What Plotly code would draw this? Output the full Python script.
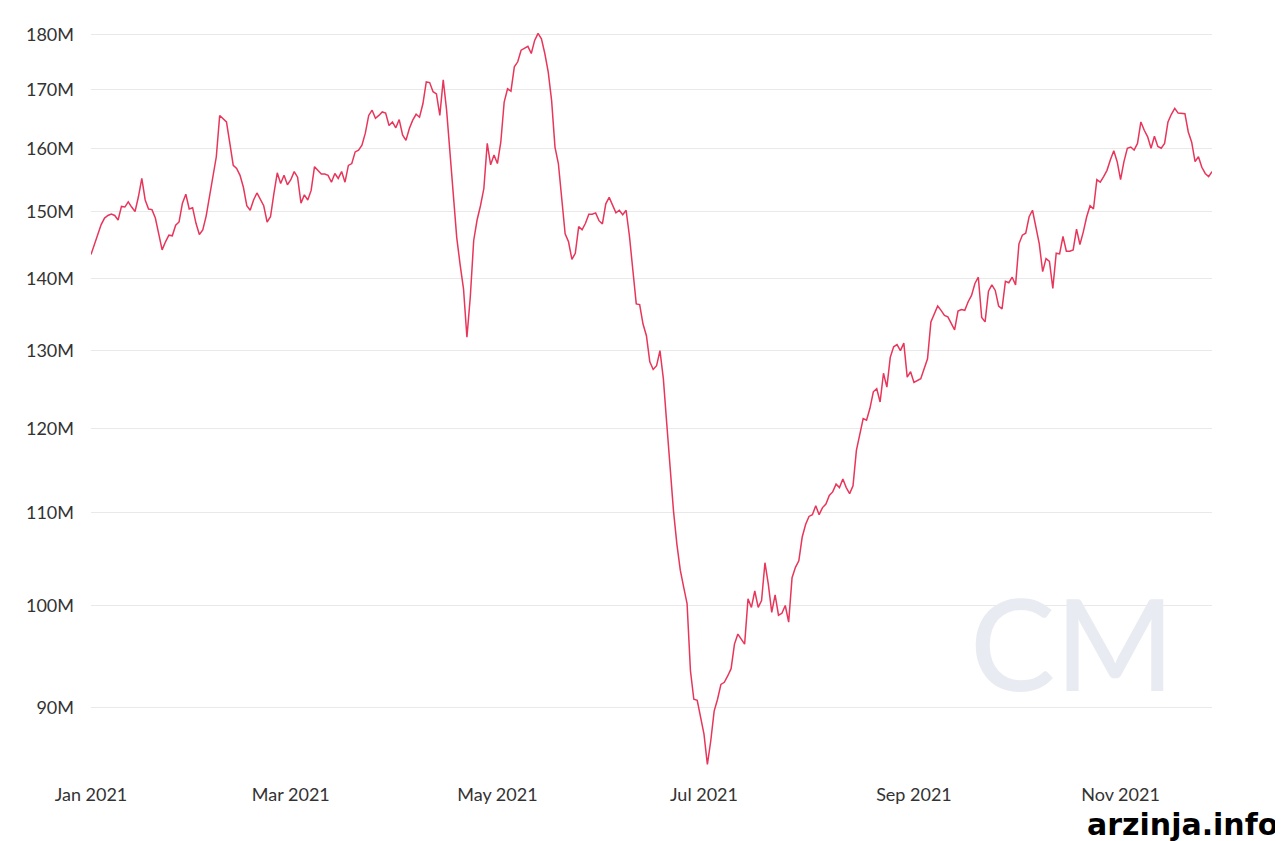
import pandas as pd
import plotly.graph_objects as go

# daily values in millions, one list per month
jan = [143.5, 145.0, 146.5, 148.0, 149.0, 149.4, 149.6, 149.4, 148.7, 150.8,
       150.7, 151.5, 150.7, 150.0, 152.3, 155.2, 151.8, 150.4, 150.3, 149.0,
       146.6, 144.2, 145.4, 146.4, 146.3, 147.9, 148.4, 151.3, 152.7, 150.4,
       150.6]
feb = [148.2, 146.5, 147.2, 149.3, 152.3, 156.0, 158.7, 165.6, 165.1, 164.5,
       160.9, 157.3, 156.8, 155.7, 153.8, 150.9, 150.2, 151.8, 152.9, 152.0,
       150.9, 148.4, 149.2, 152.8, 156.1, 154.4, 155.7, 154.2]
mar = [155.0, 156.3, 155.4, 151.3, 152.6, 151.8, 153.3, 157.1, 156.5, 155.9,
       155.9, 155.7, 154.6, 156.0, 155.2, 156.3, 154.6, 157.3, 157.6, 159.5,
       159.8, 160.6, 162.6, 165.6, 166.5, 165.1, 165.6, 166.2, 166.0, 163.9,
       164.5]
apr = [163.5, 164.9, 162.3, 161.4, 163.4, 164.8, 165.8, 165.3, 167.6, 171.4,
       171.3, 169.7, 169.3, 165.6, 171.8, 166.5, 159.3, 152.3, 146.0, 142.0,
       138.5, 131.8, 137.4, 145.6, 148.7, 150.9, 153.6, 160.9, 157.4, 159.0]
may = [157.6, 161.1, 167.9, 170.2, 169.8, 174.1, 175.0, 177.1, 177.5, 177.8,
       176.5, 178.9, 180.2, 179.2, 176.5, 173.2, 168.2, 160.3, 157.6, 152.3,
       146.6, 145.4, 142.8, 143.7, 147.7, 147.2, 148.2, 149.6, 149.6, 149.8,
       148.6]
jun = [148.1, 151.2, 152.2, 150.9, 149.8, 150.2, 149.5, 150.2, 146.2, 141.2,
       136.4, 136.3, 133.6, 132.0, 128.5, 127.5, 128.0, 130.0, 126.3, 120.6,
       115.3, 110.2, 106.5, 103.7, 101.9, 100.2, 93.5, 90.8, 90.7, 89.1]
jul = [87.6, 84.9, 87.0, 89.7, 90.8, 92.2, 92.4, 93.0, 93.7, 96.1,
       97.1, 96.6, 96.1, 100.7, 99.8, 101.5, 99.8, 100.5, 104.5, 102.2,
       99.3, 101.1, 99.0, 99.2, 100.0, 98.3, 102.9, 104.0, 104.7, 107.3,
       108.7]
aug = [109.6, 109.8, 110.8, 109.8, 110.6, 111.0, 112.0, 112.4, 113.3, 112.9,
       113.9, 112.9, 112.2, 113.1, 117.3, 119.4, 121.2, 121.0, 122.5, 124.6,
       125.0, 123.3, 127.0, 125.2, 129.1, 130.5, 130.8, 130.0, 131.0, 126.5,
       127.2]
sep = [125.8, 126.0, 126.3, 127.6, 128.9, 133.9, 135.0, 136.1, 135.5, 134.8,
       134.6, 133.7, 132.8, 135.4, 135.6, 135.5, 136.7, 137.6, 139.3, 140.2,
       134.5, 133.9, 138.2, 139.1, 138.3, 136.1, 135.7, 139.6, 139.4, 140.2]
oct = [139.1, 145.1, 146.4, 146.7, 149.2, 150.2, 147.7, 145.1, 141.0, 142.9,
       142.5, 138.6, 143.7, 143.6, 146.2, 144.0, 144.0, 144.2, 147.3, 145.0,
       146.9, 149.2, 150.9, 150.4, 155.0, 154.6, 155.5, 156.5, 158.2, 159.7,
       157.9]
nov = [155.0, 157.9, 160.1, 160.3, 159.8, 160.9, 164.5, 163.1, 162.0, 160.1,
       162.1, 160.4, 160.1, 160.9, 164.5, 165.8, 166.8, 166.0, 166.0, 165.9,
       162.8, 161.1, 157.9, 158.7, 157.0, 156.0, 155.5, 156.3]

y_ticks = [90, 100, 110, 120, 130, 140, 150, 160, 170, 180]
y_labels = ["90M", "100M", "110M", "120M", "130M", "140M", "150M", "160M", "170M", "180M"]

values = jan + feb + mar + apr + may + jun + jul + aug + sep + oct + nov
dates = pd.date_range("2021-01-01", periods=len(values), freq="D")

fig = go.Figure()
fig.add_trace(go.Scatter(x=dates, y=values, mode="lines",
                         line=dict(color="#e8365b", width=1.5),
                         hoverinfo="skip"))

# faint CM watermark and site credit
fig.add_annotation(text="CM", x=0.876, y=0.172, xref="paper", yref="paper",
                   xanchor="center", yanchor="middle", showarrow=False,
                   font=dict(family="Lato", size=128, color="#e8ebf2", weight=500))
fig.add_annotation(text="<b>arzinja.info</b>", x=1.0607, y=-0.075,
                   xref="paper", yref="paper", xanchor="right", yanchor="middle",
                   showarrow=False,
                   font=dict(family="DejaVu Sans", size=30, color="#000000"))

# page body has an 8px margin, so the figure is 8px smaller than the window
fig.update_layout(
    width=1275, height=833,
    margin=dict(l=83, r=71, t=21, b=72),
    paper_bgcolor="white", plot_bgcolor="white",
    showlegend=False,
    font=dict(family="Lato", size=18, color="#333333"),
)
fig.update_xaxes(range=[dates[0], dates[-1]], dtick="M2", tickformat="%b %Y",
                 showgrid=False, zeroline=False, showline=False,
                 ticks="", ticklabelstandoff=13)
fig.update_yaxes(type="log", range=[1.9269, 2.2577],
                 tickvals=y_ticks, ticktext=y_labels,
                 showgrid=True, gridcolor="#e9e9e9", gridwidth=1,
                 zeroline=False, showline=False, ticks="", ticklabelstandoff=16)

fig.write_html("out.html")
